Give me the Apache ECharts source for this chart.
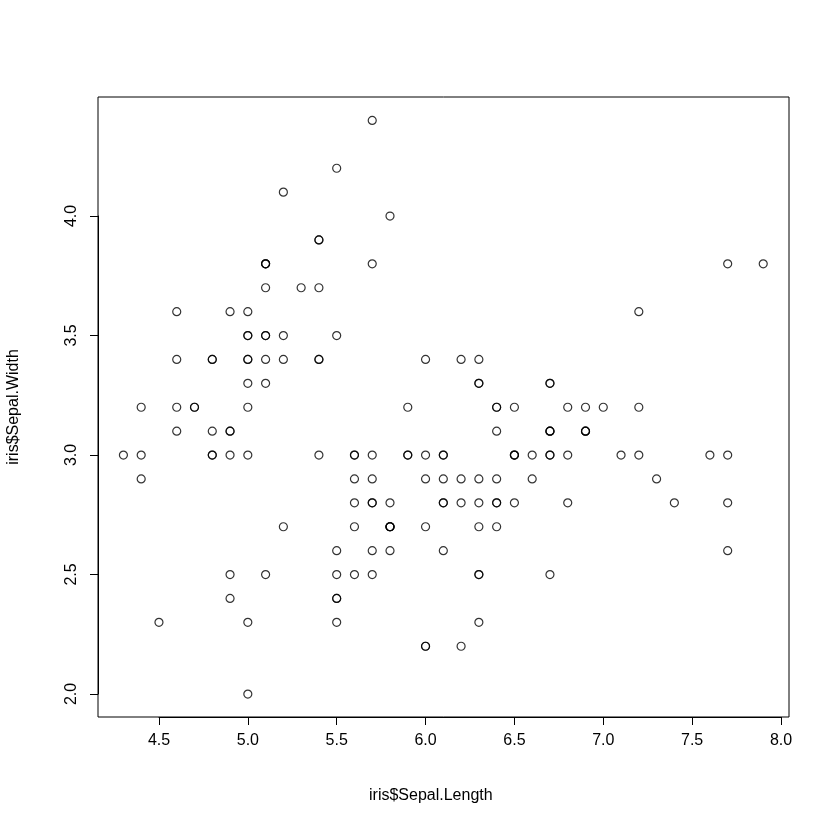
<!DOCTYPE html>
<html><head><meta charset="utf-8">
<script src="https://cdn.jsdelivr.net/npm/echarts@6/dist/echarts.min.js"></script>
<style>html,body{margin:0;padding:0;background:#fff}#c{width:840px;height:840px}</style>
</head><body><div id="c"></div>
<script>
const sepalLength=[5.1,4.9,4.7,4.6,5.0,5.4,4.6,5.0,4.4,4.9,5.4,4.8,4.8,4.3,5.8,5.7,5.4,5.1,5.7,5.1,5.4,5.1,4.6,5.1,4.8,5.0,5.0,5.2,5.2,4.7,4.8,5.4,5.2,5.5,4.9,5.0,5.5,4.9,4.4,5.1,5.0,4.5,4.4,5.0,5.1,4.8,5.1,4.6,5.3,5.0,
7.0,6.4,6.9,5.5,6.5,5.7,6.3,4.9,6.6,5.2,5.0,5.9,6.0,6.1,5.6,6.7,5.6,5.8,6.2,5.6,5.9,6.1,6.3,6.1,6.4,6.6,6.8,6.7,6.0,5.7,5.5,5.5,5.8,6.0,5.4,6.0,6.7,6.3,5.6,5.5,5.5,6.1,5.8,5.0,5.6,5.7,5.7,6.2,5.1,5.7,
6.3,5.8,7.1,6.3,6.5,7.6,4.9,7.3,6.7,7.2,6.5,6.4,6.8,5.7,5.8,6.4,6.5,7.7,7.7,6.0,6.9,5.6,7.7,6.3,6.7,7.2,6.2,6.1,6.4,7.2,7.4,7.9,6.4,6.3,6.1,7.7,6.3,6.4,6.0,6.9,6.7,6.9,5.8,6.8,6.7,6.7,6.3,6.5,6.2,5.9];
const sepalWidth=[3.5,3.0,3.2,3.1,3.6,3.9,3.4,3.4,2.9,3.1,3.7,3.4,3.0,3.0,4.0,4.4,3.9,3.5,3.8,3.8,3.4,3.7,3.6,3.3,3.4,3.0,3.4,3.5,3.4,3.2,3.1,3.4,4.1,4.2,3.1,3.2,3.5,3.6,3.0,3.4,3.5,2.3,3.2,3.5,3.8,3.0,3.8,3.2,3.7,3.3,
3.2,3.2,3.1,2.3,2.8,2.8,3.3,2.4,2.9,2.7,2.0,3.0,2.2,2.9,2.9,3.1,3.0,2.7,2.2,2.5,3.2,2.8,2.5,2.8,2.9,3.0,2.8,3.0,2.9,2.6,2.4,2.4,2.7,2.7,3.0,3.4,3.1,2.3,3.0,2.5,2.6,3.0,2.6,2.3,2.7,3.0,2.9,2.9,2.5,2.8,
3.3,2.7,3.0,2.9,3.0,3.0,2.5,2.9,2.5,3.6,3.2,2.7,3.0,2.5,2.8,3.2,3.0,3.8,2.6,2.2,3.2,2.8,2.8,2.7,3.3,3.2,2.8,3.0,2.8,3.0,2.8,3.8,2.8,2.8,2.6,3.0,3.4,3.1,3.0,3.1,3.1,3.1,2.7,3.2,3.3,3.0,2.5,3.0,3.4,3.0];
const xTicks=[4.5,8.0], yTicks=[2.0,4.5];
const font='Liberation Sans, Arial, sans-serif';
const data=sepalLength.map((v,i)=>[v,sepalWidth[i]]);
const chart=echarts.init(document.getElementById('c'));
const hid={show:false};
chart.setOption({
  animation:false,
  grid:[
    {left:98,right:51,top:97,bottom:123,show:true,borderColor:'#000',borderWidth:1,backgroundColor:'transparent'},
    {left:159,right:59,top:97,bottom:123},
    {left:98,right:51,top:216,bottom:146}
  ],
  xAxis:[
    {gridIndex:0,type:'value',min:4.157,max:8.045,axisLine:hid,axisTick:hid,axisLabel:hid,splitLine:hid},
    {gridIndex:1,type:'value',min:4.5,max:8.0,interval:0.5,axisLine:{show:true,lineStyle:{color:'#000'}},axisTick:{show:true,length:8,lineStyle:{color:'#000'}},
     axisLabel:{margin:16,color:'#000',fontSize:16,fontFamily:font,formatter:v=>v.toFixed(1)},splitLine:hid},
    {gridIndex:2,type:'value',show:false}
  ],
  yAxis:[
    {gridIndex:0,type:'value',min:1.904,max:4.498,axisLine:hid,axisTick:hid,axisLabel:hid,splitLine:hid},
    {gridIndex:1,type:'value',show:false},
    {gridIndex:2,type:'value',min:2.0,max:4.0,interval:0.5,axisLine:{show:true,lineStyle:{color:'#000'}},axisTick:{show:true,length:8,lineStyle:{color:'#000'}},
     axisLabel:{margin:18,rotate:90,color:'#000',fontSize:16,fontFamily:font,formatter:v=>v.toFixed(1)},splitLine:hid}
  ],
  graphic:[
    {type:'text',left:'center',x:0,top:788,style:{text:'iris$Sepal.Length',font:'16px '+font,fill:'#000'},left:369},
    {type:'text',x:14,y:407,rotation:Math.PI/2,style:{text:'iris$Sepal.Width',font:'16px '+font,fill:'#000',align:'center',verticalAlign:'middle'}}
  ],
  series:[{type:'scatter',xAxisIndex:0,yAxisIndex:0,data:data,symbol:'circle',symbolSize:8,
    itemStyle:{color:'transparent',borderColor:'#000',borderWidth:1.2}}]
});
</script></body></html>
